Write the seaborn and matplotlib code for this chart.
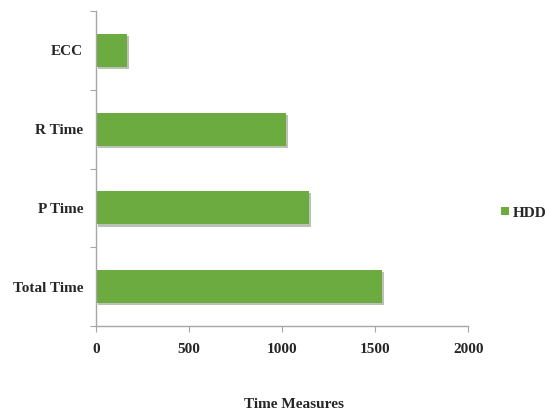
import matplotlib
matplotlib.use("Agg")
import matplotlib.pyplot as plt
import matplotlib.patheffects as pe
from matplotlib.patches import Patch
import seaborn as sns
import pandas as pd

categories = ["ECC", "R Time", "P Time", "Total Time"]
hdd_values = [166, 1021, 1145, 1535]
x_ticks = [0, 500, 1000, 1500, 2000]
series_name = "HDD"

df = pd.DataFrame({"Measure": categories, "Time": hdd_values})

sns.set_theme(style="white")
plt.rcParams["font.family"] = ["Liberation Serif", "DejaVu Serif"]
plt.rcParams["font.weight"] = "bold"

bar_color = "#6cab3f"
axis_color = "#a6a6a6"

fig = plt.figure(figsize=(5.48, 4.11), dpi=100)
ax = fig.add_axes([0.1747, 0.2068, 0.6799, 0.7664])

sns.barplot(data=df, x="Time", y="Measure", order=categories, color=bar_color,
            saturation=1, width=0.42, ax=ax)

for bar in ax.patches:
    bar.set_edgecolor("none")
    bar.set_path_effects([pe.SimplePatchShadow(offset=(1.5, -1.5), alpha=0.3),
                          pe.Normal()])

ax.set_xlim(0, 2000)
ax.set_ylim(len(categories) - 0.5, -0.5)
ax.set_xticks(x_ticks)
ax.set_xticklabels([str(t) for t in x_ticks], fontsize=11, fontweight="bold")
ax.set_yticks(range(len(categories)))
ax.set_yticklabels(categories, fontsize=11, fontweight="bold")
# category boundaries as tick marks on the value axis
ax.set_yticks([i - 0.5 for i in range(len(categories) + 1)], minor=True)

ax.tick_params(axis="y", which="major", length=0, pad=9)
ax.tick_params(axis="y", which="minor", length=4, width=0.8, color=axis_color, direction="out", left=True)
ax.tick_params(axis="x", length=4, width=0.8, color=axis_color, direction="out", pad=8, bottom=True)

for side in ["top", "right"]:
    ax.spines[side].set_visible(False)
for side in ["left", "bottom"]:
    ax.spines[side].set_color(axis_color)
    ax.spines[side].set_linewidth(1.0)

ax.set_xlabel("")
ax.set_ylabel("")
fig.text(0.536, 1 - 404 / 411, "Time Measures", ha="center", va="center",
         fontsize=11, fontweight="bold")

handle = Patch(facecolor=bar_color, edgecolor="none", label=series_name)
fig.legend(handles=[handle], loc="center left", bbox_to_anchor=(0.914, 1 - 213 / 411),
           frameon=False, handlelength=0.5, handleheight=0.5, handletextpad=0.3,
           borderpad=0, borderaxespad=0, prop={"size": 11, "weight": "bold"})

fig.savefig("out.png", dpi=100, facecolor="white")
